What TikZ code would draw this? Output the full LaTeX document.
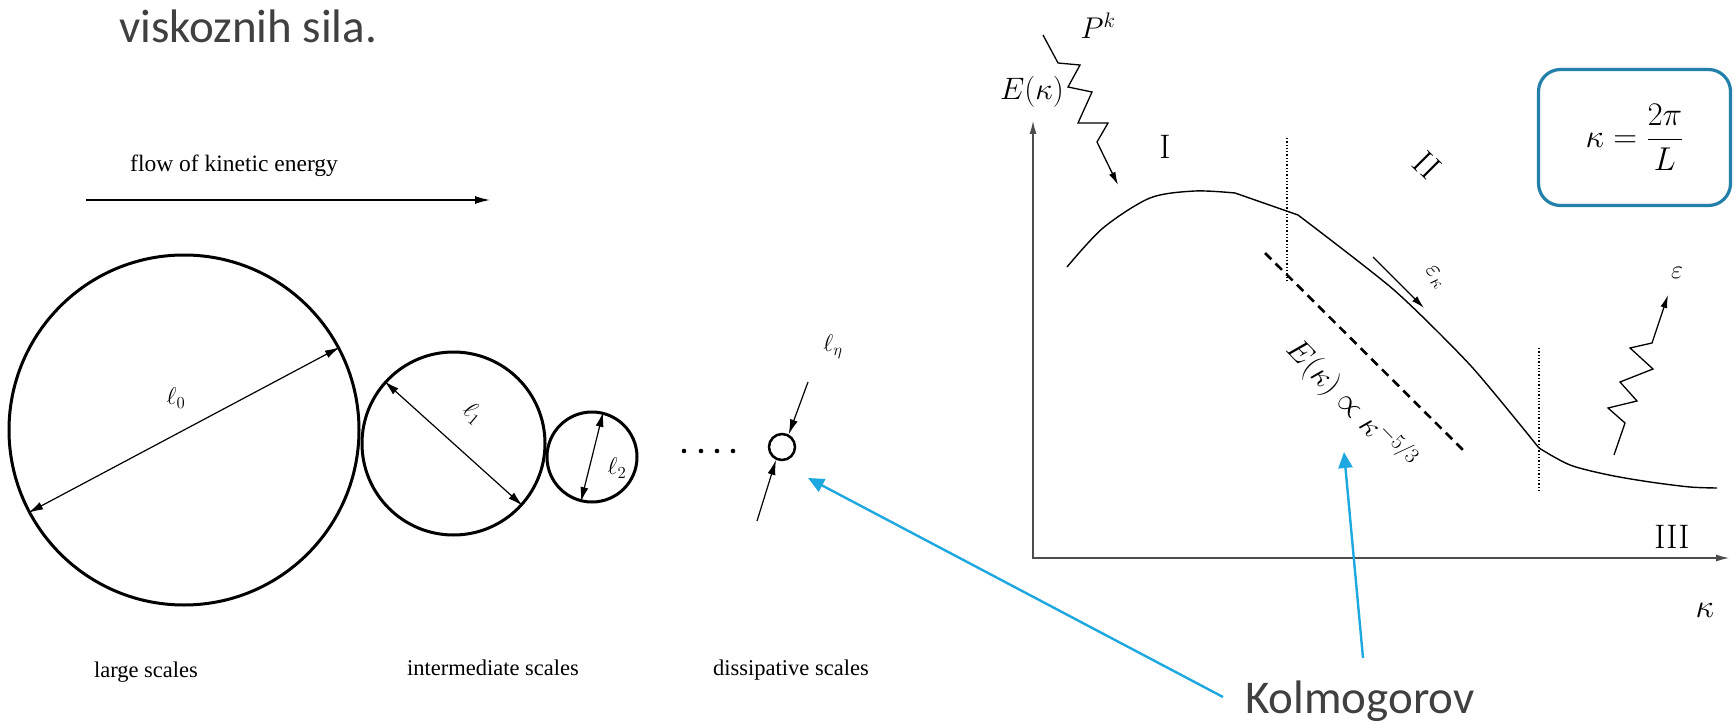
\RequirePackage{fix-cm}
\documentclass[tikz,border=0pt]{standalone}
\usepackage{amsmath}
\usepackage{fontspec}
\newfontfamily\slidefont{Carlito}
\newfontfamily\figfont{Liberation Serif}
\usetikzlibrary{arrows.meta, positioning, calc}
\definecolor{slidegray}{HTML}{404040}
\definecolor{kolblue}{HTML}{1EA8E0}
\definecolor{boxblue}{HTML}{2380A8}

\begin{document}
\begin{tikzpicture}[
    x=1pt, y=-1pt,
    slidetxt/.style={font=\slidefont\fontsize{47}{50}\selectfont, text=slidegray, inner sep=0pt},
    scalelbl/.style={font=\figfont\fontsize{22.5}{24}\selectfont, inner sep=0pt},
    eddy/.style={circle, draw=black, line width=3pt, inner sep=0pt},
    diam/.style={arrows={Latex[length=15pt,width=8pt]-Latex[length=15pt,width=8pt]}, line width=1.2pt},
    arr/.style={-{Latex[length=15pt,width=8pt]}, line width=1.2pt},
    zig/.style={-{Latex[length=13pt,width=7pt]}, line width=1.3pt},
    mlbl/.style={font=\fontsize{24}{26}\selectfont, inner sep=0pt},
    glbl/.style={font=\fontsize{33}{35}\selectfont, inner sep=0pt},
    ax/.style={arrows={Latex[length=14pt,width=7pt]-Latex[length=14pt,width=7pt]}, line width=2pt, draw=black!70},
    kolarr/.style={-{Triangle[length=16pt,width=14pt]}, line width=2.4pt, draw=kolblue, fill=kolblue}
  ]
  \useasboundingbox (0,0) rectangle (1734,722);

  % left: cascade of eddies
  \node[slidetxt, anchor=base west] (title) at (119,43) {viskoznih sila.};
  \node[scalelbl, font=\figfont\fontsize{23.5}{25}\selectfont, anchor=base west] (flowlbl) at (130,172) {flow of kinetic energy};
  \coordinate (flowA) at (86,200);
  \coordinate (flowB) at (490,200);
  \draw[arr, line width=1.5pt] (flowA) -- (flowB);

  \node[eddy, minimum size=350pt] (e0) at (184,430) {};
  \node[eddy, minimum size=183pt] (e1) at (453.5,443.5) {};
  \node[eddy, minimum size=90pt]  (e2) at (592,457) {};
  \node[eddy, minimum size=26pt, line width=2.5pt] (e3) at (782,447) {};

  \draw[diam] (e0.208) -- (e0.28);
  \draw[diam] (e1.138) -- (e1.-42);
  \draw[diam] (e2.256) -- (e2.76);

  \node[mlbl]              (l0)   at (176,398) {$\ell_0$};
  \node[mlbl, rotate=-40]  (l1)   at (473,413) {$\ell_1$};
  \node[mlbl]              (l2)   at (617,468) {$\ell_2$};
  \node[mlbl]              (leta) at (833,347) {$\ell_\eta$};

  \foreach \xd in {684,701,717,733}
    \fill (\xd,451) circle (2.3);

  \coordinate (etaIn)  at (808,382);
  \coordinate (etaOut) at (757,521);
  \draw[arr] (etaIn) -- (e3.62);
  \draw[arr] (etaOut) -- (e3.245);

  \node[scalelbl] (large) at (146,672) {large scales};
  \node[scalelbl] (inter) at (493,668) {intermediate scales};
  \node[scalelbl] (diss)  at (791,670) {dissipative scales};

  % right: energy spectrum
  \coordinate (O)    at (1033,558);
  \coordinate (ytip) at (1033,120);
  \coordinate (xtip) at (1730,558);
  \draw[ax] (ytip) -- (O) -- (xtip);

  \draw[line width=1.4pt] plot[smooth, tension=0.5] coordinates {(1067,267) (1103,228) (1150,198) (1195,191) (1235,193)} -- (1298,215);
  \draw[line width=1.4pt] plot[smooth, tension=0.4] coordinates {(1298,215) (1394,290) (1471,366) (1539,448)};
  \draw[line width=1.4pt] plot[smooth, tension=0.5] coordinates {(1539,448) (1570,465) (1609,475) (1650,482) (1690,487) (1717,488)};

  \draw[dotted, line width=1.3pt] (1287,138) -- (1287,280);
  \draw[dotted, line width=1.3pt] (1539,348) -- (1539,490);
  \draw[line width=2.6pt, dash pattern=on 9pt off 6pt] (1265,253) -- (1464,451);

  \coordinate (fluxA) at (1373,257);
  \coordinate (fluxB) at (1424,308);
  \draw[zig] (fluxA) -- (fluxB);

  \draw[zig] (1043,35) -- (1058,63) -- (1080,65) -- (1068,87) -- (1092,92) -- (1078,123) -- (1108,123) -- (1097,142) -- (1118,185);
  \draw[zig] (1614,455) -- (1625,423) -- (1608,408) -- (1637,401) -- (1620,382) -- (1653,369) -- (1630,348) -- (1652,343) -- (1668,295);

  \node[glbl, font=\fontsize{30}{32}\selectfont] (Pk) at (1098,26) {$P^k$};
  \node[glbl, font=\fontsize{31}{33}\selectfont] (Ek) at (1032,92) {$E(\kappa)$};
  \node[glbl, font=\fontsize{34}{36}\selectfont] (rI)   at (1165,147) {I};
  \node[glbl, font=\fontsize{34}{36}\selectfont, rotate=-45] (rII) at (1427,165) {II};
  \node[glbl, font=\fontsize{34}{36}\selectfont] (rIII) at (1672,537) {III};
  \node[glbl] (kap)  at (1705,610) {$\kappa$};
  \node[glbl, font=\fontsize{26}{28}\selectfont] (eps)  at (1677,273) {$\varepsilon$};
  \node[glbl, font=\fontsize{26}{28}\selectfont, rotate=-50] (epsk) at (1435,277) {$\varepsilon_\kappa$};
  \node[glbl, font=\fontsize{31}{33}\selectfont, rotate=-46] (law) at (1351,405) {$E(\kappa)\propto\kappa^{-5/3}$};

  \node[draw=boxblue, line width=3.2pt, rounded corners=22pt, minimum width=192pt, minimum height=136pt, font=\fontsize{33}{35}\selectfont] (kbox) at (1634.5,137.5) {$\kappa = \dfrac{2\pi}{L}$};

  % Kolmogorov pointers
  \node[slidetxt, anchor=base west] (kol) at (1245,713) {Kolmogorov};
  \coordinate (kolL)    at (1223,697);
  \coordinate (kolT)    at (1363,658);
  \coordinate (etaTip)  at (808,478);
  \coordinate (lawTip)  at (1344,452);
  \draw[kolarr] (kolL) -- (etaTip);
  \draw[kolarr] (kolT) -- (lawTip);
\end{tikzpicture}
\end{document}
